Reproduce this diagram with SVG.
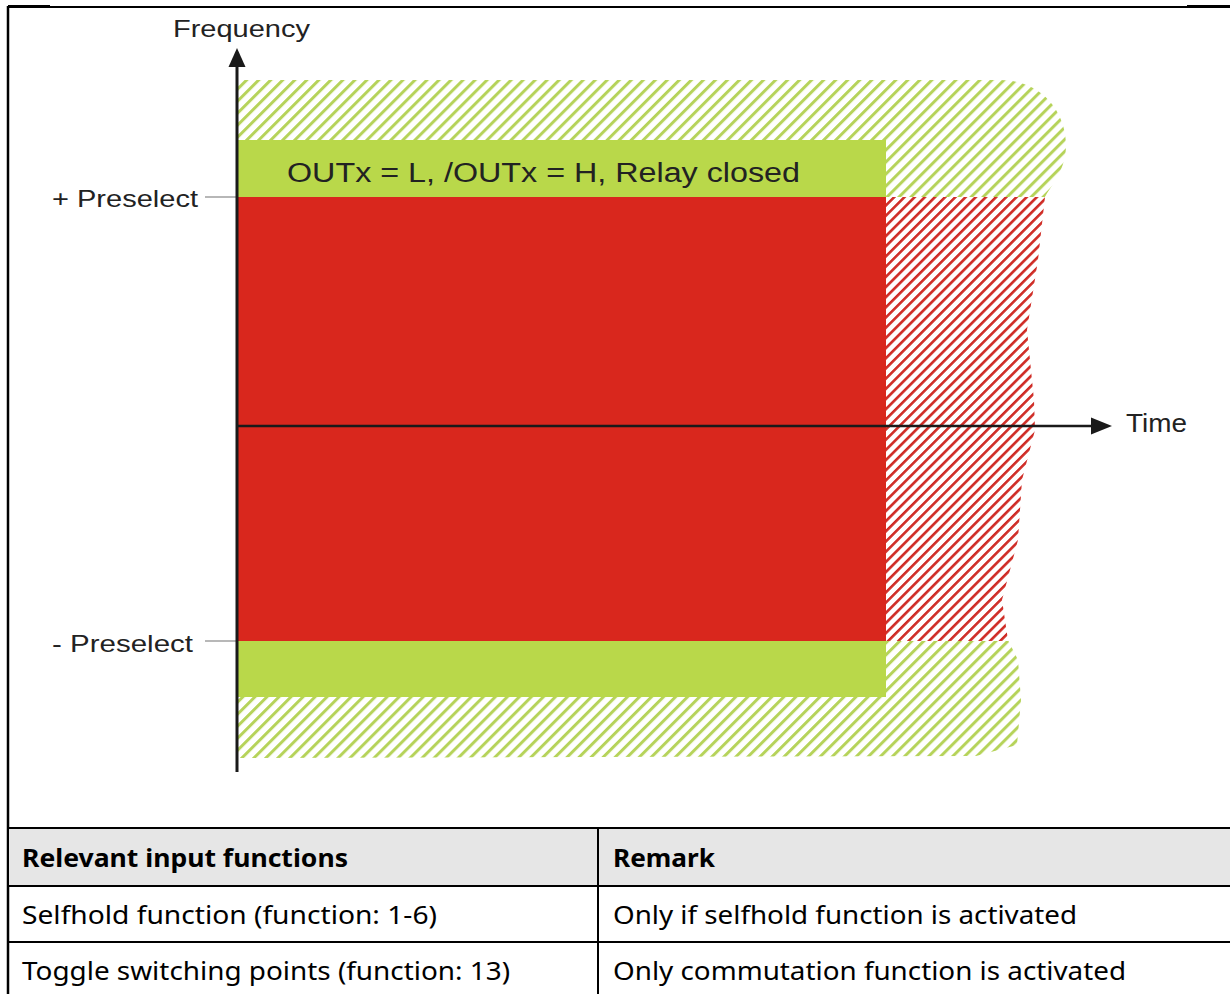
<svg xmlns="http://www.w3.org/2000/svg" width="1230" height="994" viewBox="0 0 1230 994">
<defs>
<pattern id="hg" patternUnits="userSpaceOnUse" width="8.5" height="8.5" patternTransform="rotate(45)">
<rect x="0" y="0" width="3" height="8.5" fill="#b6d35a"/>
</pattern>
<pattern id="hr" patternUnits="userSpaceOnUse" width="7.2" height="7.2" patternTransform="rotate(45)">
<rect x="0" y="0" width="2.6" height="7.2" fill="#cf2c26"/>
</pattern>
<clipPath id="outline">
<path d="M237,80 L1000,80 C1042,80 1066,112 1066,145 C1066,170 1052,184 1045,197 L1038,260 L1027,330 L1034,400 L1035,430 L1022,480 L1018,540 L1002,600 L1008,640 L1018,660 L1021,700 L1017,745 L976,756 L237,758 Z"/>
</clipPath>
<style>
.lbl{font-family:"Liberation Sans",Arial,sans-serif;fill:#222}
.tbl{font-family:"Noto Sans","Liberation Sans",Arial,sans-serif;fill:#000;font-size:25px}
.tb{font-weight:bold}
.ln{stroke:#000;stroke-width:2;fill:none}
.tick{stroke:#888;stroke-width:1.2}
</style>
</defs>

<g id="frame">
<line x1="8" y1="7" x2="1230" y2="7" stroke="#000" stroke-width="2"/>
<line x1="8" y1="6.5" x2="50" y2="6.5" stroke="#000" stroke-width="3"/>
<line x1="1187" y1="6.5" x2="1230" y2="6.5" stroke="#000" stroke-width="3"/>
<line x1="8" y1="6" x2="8" y2="994" stroke="#000" stroke-width="2.5"/>
</g>

<g id="hatch-zones" clip-path="url(#outline)">
<rect id="hatch-green-top" x="237" y="70" width="840" height="127" fill="url(#hg)"/>
<rect id="hatch-red" x="237" y="197" width="840" height="444" fill="url(#hr)"/>
<rect id="hatch-green-bottom" x="237" y="641" width="840" height="125" fill="url(#hg)"/>
</g>

<g id="band-green-top">
<rect x="237" y="140" width="649" height="57" fill="#b9d84a"/>
<text class="lbl" x="287" y="182" font-size="27" textLength="513" lengthAdjust="spacingAndGlyphs">OUTx = L, /OUTx = H, Relay closed</text>
</g>
<g id="band-red">
<rect x="237" y="197" width="649" height="444" fill="#d9271d"/>
</g>
<g id="band-green-bottom">
<rect x="237" y="641" width="649" height="56" fill="#b9d84a"/>
</g>

<g id="connectors">
<line class="tick" x1="205" y1="197" x2="237" y2="197"/>
<line class="tick" x1="205" y1="641" x2="237" y2="641"/>
<line x1="237" y1="62" x2="237" y2="772" stroke="#1a1a1a" stroke-width="3"/>
<polygon points="237,48 228.5,67 245.5,67" fill="#1a1a1a"/>
<line x1="237" y1="426" x2="1096" y2="426" stroke="#1a1a1a" stroke-width="2.5"/>
<polygon points="1112,426 1091,417.5 1091,434.5" fill="#1a1a1a"/>
</g>

<g id="axis-labels">
<text class="lbl" x="173" y="37" font-size="23" textLength="137" lengthAdjust="spacingAndGlyphs">Frequency</text>
<text class="lbl" x="1126" y="432" font-size="25" textLength="61" lengthAdjust="spacingAndGlyphs">Time</text>
<text class="lbl" x="52" y="207" font-size="24.5" textLength="146" lengthAdjust="spacingAndGlyphs">+ Preselect</text>
<text class="lbl" x="52" y="652" font-size="24.5" textLength="141" lengthAdjust="spacingAndGlyphs">- Preselect</text>
</g>

<g id="table">
<rect x="9" y="828" width="1221" height="58" fill="#e6e6e6"/>
<line class="ln" x1="8" y1="828" x2="1230" y2="828"/>
<line class="ln" x1="8" y1="886" x2="1230" y2="886"/>
<line class="ln" x1="8" y1="942" x2="1230" y2="942"/>
<line class="ln" x1="598" y1="828" x2="598" y2="994"/>
<text class="tbl tb" x="22" y="867" textLength="326" lengthAdjust="spacingAndGlyphs">Relevant input functions</text>
<text class="tbl tb" x="613" y="867" textLength="102" lengthAdjust="spacingAndGlyphs">Remark</text>
<text class="tbl" x="22" y="924" textLength="415" lengthAdjust="spacingAndGlyphs">Selfhold function (function: 1-6)</text>
<text class="tbl" x="613" y="924" textLength="464" lengthAdjust="spacingAndGlyphs">Only if selfhold function is activated</text>
<text class="tbl" x="22" y="980" textLength="488" lengthAdjust="spacingAndGlyphs">Toggle switching points (function: 13)</text>
<text class="tbl" x="613" y="980" textLength="513" lengthAdjust="spacingAndGlyphs">Only commutation function is activated</text>
</g>
</svg>
